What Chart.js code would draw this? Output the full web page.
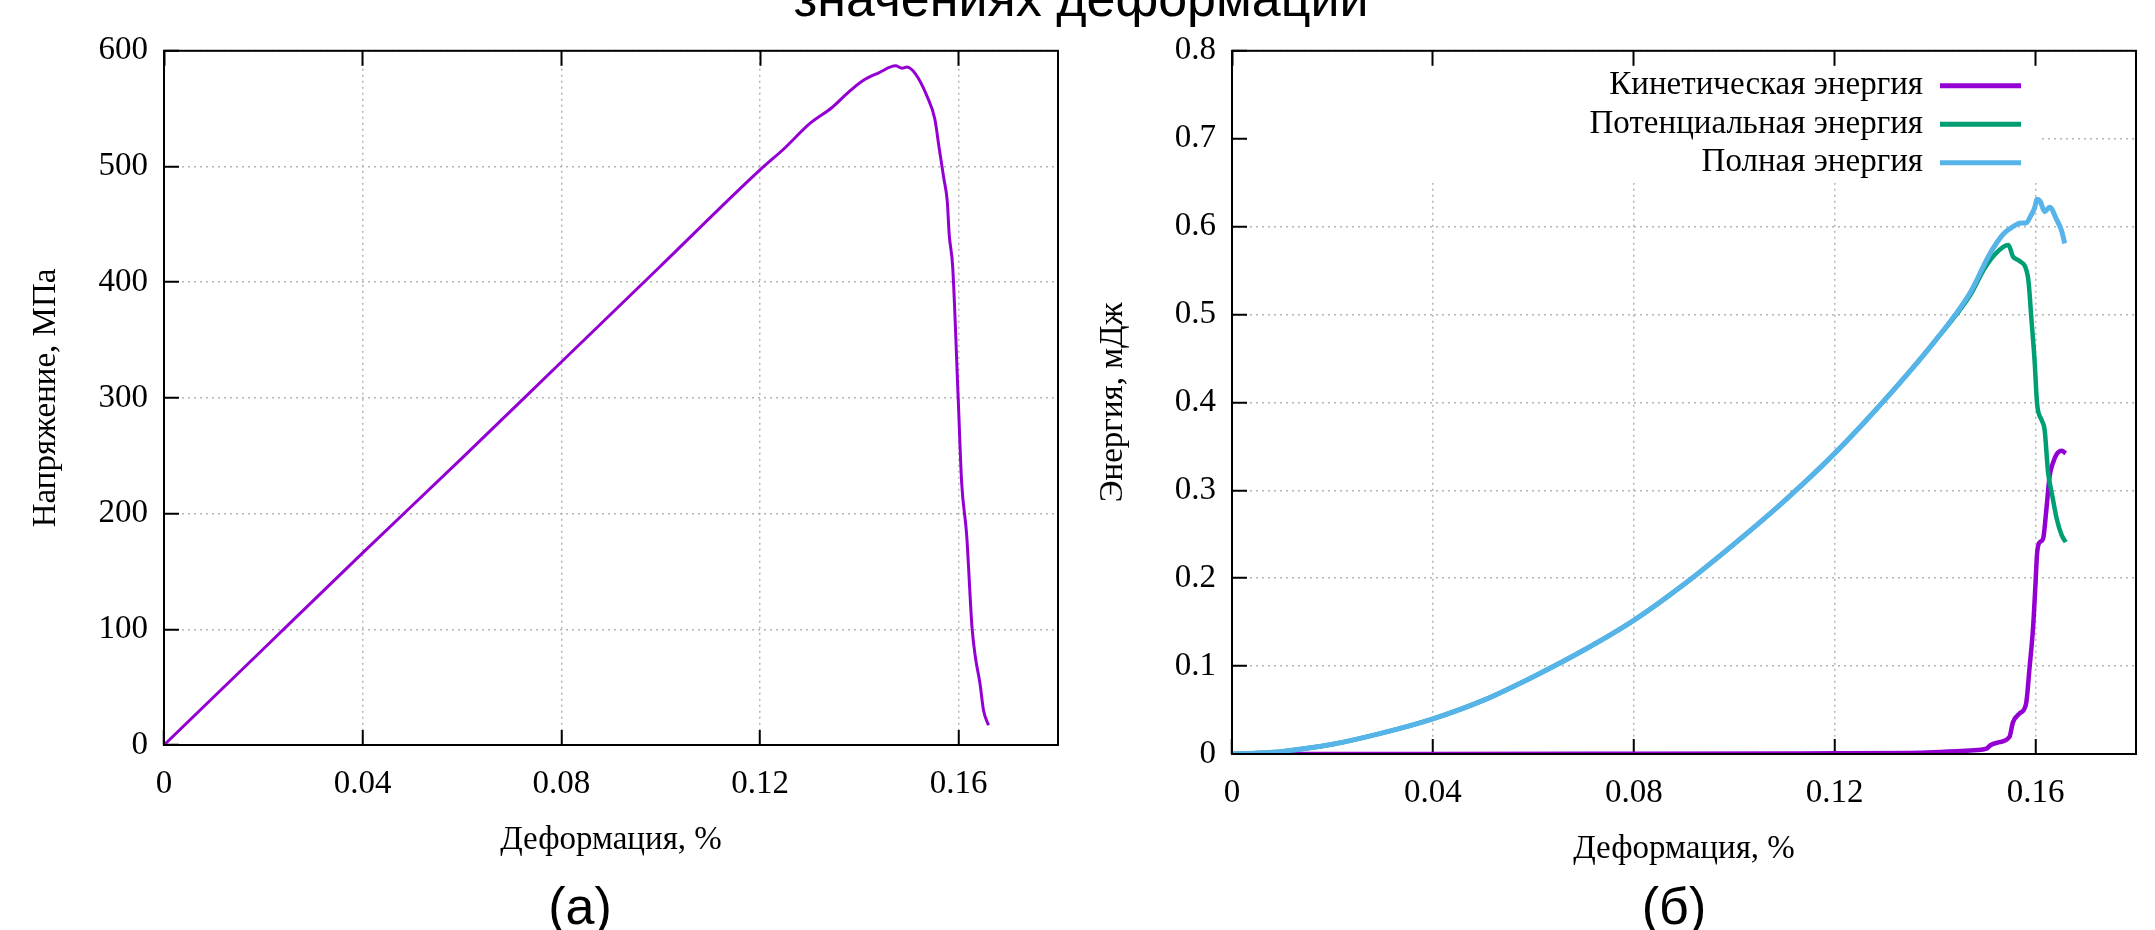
<!DOCTYPE html>
<html>
<head>
<meta charset="utf-8">
<script src="https://cdn.jsdelivr.net/npm/chart.js@4.4.1/dist/chart.umd.min.js"></script>
<style>
html, body { margin: 0; padding: 0; background: #fff; }
body { width: 2155px; height: 930px; position: relative; overflow: hidden; }
.box { position: absolute; top: 0; height: 930px; }
.lbl { position: absolute; font-family: "Liberation Sans", Arial, sans-serif; font-size: 52px; line-height: 1; white-space: nowrap; transform: translateX(-50%); color: #000; }
</style>
</head>
<body>
<div class="box" style="left:0;width:1080px"><canvas id="stressChart"></canvas></div>
<div class="box" style="left:1080px;width:1075px"><canvas id="energyChart"></canvas></div>
<div class="lbl" style="left:1081px;top:-28px">значениях деформации</div>
<div class="lbl" style="left:580px;top:880px">(а)</div>
<div class="lbl" style="left:1674px;top:880px">(б)</div>
<script>
const SERIF = "'Liberation Serif', 'Times New Roman', serif";

// деления осей
const strainTicks = [0, 0.04, 0.08, 0.12, 0.16];
const stressTicks = [0, 100, 200, 300, 400, 500, 600];
const energyTicks = [0, 0.1, 0.2, 0.3, 0.4, 0.5, 0.6, 0.7, 0.8];

// (а) напряжение - деформация
const strainA = [0, 0.02, 0.04, 0.06, 0.08, 0.1, 0.12, 0.125, 0.13, 0.1345, 0.1375, 0.1406, 0.1439, 0.1473, 0.1486, 0.1496, 0.1513, 0.1536, 0.1552, 0.156, 0.157, 0.1577, 0.1581, 0.1588, 0.1599, 0.1606, 0.1616, 0.1627, 0.1634, 0.1643, 0.165, 0.166];
const stressA = [0, 83, 166, 248, 331, 414, 497, 516, 537, 551, 563, 574, 581, 587, 585, 586, 580, 561, 541, 518, 490, 470, 441, 413, 300, 227, 182, 101, 75, 53, 30, 17];

// (б) энергии
const strainKin = [0, 0.04, 0.08, 0.12, 0.135, 0.1471, 0.1502, 0.151, 0.1528, 0.1548, 0.1555, 0.1568, 0.1581, 0.1588, 0.1595, 0.16, 0.1603, 0.1607, 0.1615, 0.1621, 0.1628, 0.1634, 0.1642, 0.1652, 0.166];
const kinetic = [0, 0, 0.0003, 0.0008, 0.0012, 0.004, 0.006, 0.010, 0.0135, 0.0195, 0.036, 0.046, 0.057, 0.098, 0.1435, 0.195, 0.228, 0.240, 0.245, 0.275, 0.316, 0.330, 0.341, 0.345, 0.342];

const strainPot = [0, 0.005, 0.01, 0.02, 0.03, 0.04, 0.05, 0.06, 0.07, 0.08, 0.09, 0.1, 0.11, 0.12, 0.13, 0.14, 0.147, 0.1498, 0.152, 0.1546, 0.1555, 0.1568, 0.1585, 0.1592, 0.1598, 0.1603, 0.1612, 0.1618, 0.1625, 0.1632, 0.1642, 0.1652, 0.166];
const potential = [0, 0.001, 0.003, 0.011, 0.024, 0.040, 0.061, 0.088, 0.118, 0.152, 0.193, 0.239, 0.288, 0.342, 0.403, 0.470, 0.522, 0.552, 0.569, 0.579, 0.566, 0.561, 0.542, 0.493, 0.448, 0.399, 0.380, 0.369, 0.320, 0.298, 0.268, 0.249, 0.241];

const strainTot = [0, 0.005, 0.01, 0.02, 0.03, 0.04, 0.05, 0.06, 0.07, 0.08, 0.09, 0.1, 0.11, 0.12, 0.13, 0.14, 0.147, 0.1508, 0.1535, 0.1555, 0.1571, 0.1581, 0.1591, 0.1598, 0.1603, 0.1609, 0.1618, 0.1628, 0.1642, 0.1652, 0.1658];
const total = [0, 0.001, 0.003, 0.011, 0.024, 0.040, 0.061, 0.088, 0.118, 0.152, 0.193, 0.239, 0.288, 0.342, 0.403, 0.470, 0.525, 0.568, 0.591, 0.600, 0.604, 0.604, 0.613, 0.621, 0.631, 0.629, 0.617, 0.622, 0.608, 0.595, 0.581];

const energyNames = ['Кинетическая энергия', 'Потенциальная энергия', 'Полная энергия'];
const energyColors = ['#9400d3', '#009e73', '#56b4e9'];

function toPoints(xs, ys) {
    return xs.map((x, i) => ({ x: x, y: ys[i] }));
}

// сетка пунктиром, засечки внутрь
const gridOpts = {
    color: '#b4b4b4',
    lineWidth: 1.5,
    tickColor: '#000',
    tickWidth: 2,
    tickLength: -15,
    tickBorderDash: []
};

function xAxis(height, titlePad) {
    return {
        type: 'linear',
        position: 'bottom',
        min: 0,
        max: 0.18,
        afterBuildTicks: s => { s.ticks = strainTicks.map(v => ({ value: v })); },
        afterFit: s => { s.height = height; },
        grid: gridOpts,
        border: { display: false, dash: [2, 4] },
        ticks: { padding: 35, color: '#000', autoSkip: false, maxRotation: 0, font: { family: SERIF, size: 33 }, callback: v => String(v) },
        title: { display: true, text: 'Деформация, %', color: '#000', font: { family: SERIF, size: 33 }, padding: { top: 0, bottom: titlePad } }
    };
}

function topAxis() {
    return {
        type: 'linear',
        position: 'top',
        min: 0,
        max: 0.18,
        afterBuildTicks: s => { s.ticks = strainTicks.map(v => ({ value: v })); },
        afterFit: s => { s.height = 0; },
        grid: { drawOnChartArea: false, tickColor: '#000', tickWidth: 2, tickLength: -15, z: 1 },
        border: { display: false },
        ticks: { display: false }
    };
}

function yAxis(max, tickVals, title, width, titlePad) {
    return {
        type: 'linear',
        position: 'left',
        min: 0,
        max: max,
        afterBuildTicks: s => { s.ticks = tickVals.map(v => ({ value: v })); },
        afterFit: s => { s.width = width; },
        grid: gridOpts,
        border: { display: false, dash: [2, 4] },
        ticks: { padding: 31, color: '#000', autoSkip: false, font: { family: SERIF, size: 33 }, callback: v => String(v) },
        title: { display: true, text: title, color: '#000', font: { family: SERIF, size: 33 }, padding: { top: titlePad, bottom: 0 } }
    };
}

// рамка вокруг области графика
const framePlugin = {
    id: 'frame',
    afterDatasetsDraw(chart) {
        const { ctx, chartArea: a } = chart;
        ctx.save();
        ctx.strokeStyle = '#000';
        ctx.lineWidth = 2;
        ctx.strokeRect(a.left, a.top, a.right - a.left, a.bottom - a.top);
        ctx.restore();
    }
};

// непрозрачная легенда внутри графика (б)
const keyPlugin = {
    id: 'key',
    beforeDatasetsDraw(chart) {
        const { ctx, chartArea: a } = chart;
        ctx.save();
        ctx.fillStyle = '#fff';
        ctx.fillRect(a.left + 17, a.top + 1, 958 - a.left - 17, 131);
        ctx.font = '33px ' + SERIF;
        ctx.textAlign = 'right';
        ctx.textBaseline = 'middle';
        energyNames.forEach((name, i) => {
            const y = a.top + 35 + i * 38.5;
            ctx.fillStyle = '#000';
            ctx.fillText(name, 843, y);
            ctx.strokeStyle = energyColors[i];
            ctx.lineWidth = 5;
            ctx.beginPath();
            ctx.moveTo(860, y);
            ctx.lineTo(941, y);
            ctx.stroke();
        });
        ctx.restore();
    }
};

new Chart(document.getElementById('stressChart'), {
    type: 'line',
    data: {
        datasets: [{
            label: 'Напряжение',
            data: toPoints(strainA, stressA),
            borderColor: '#9400d3',
            borderWidth: 3,
            pointRadius: 0,
            cubicInterpolationMode: 'monotone',
            fill: false
        }]
    },
    options: {
        responsive: true,
        maintainAspectRatio: false,
        animation: false,
        layout: { padding: { top: 45, right: 22, left: 0, bottom: 0 } },
        scales: {
            x: xAxis(185, 70),
            x2: topAxis(),
            y: yAxis(600, stressTicks, 'Напряжение, МПа', 164, 27)
        },
        plugins: { legend: { display: false }, title: { display: false }, tooltip: { enabled: false } }
    },
    plugins: [framePlugin]
});

new Chart(document.getElementById('energyChart'), {
    type: 'line',
    data: {
        datasets: [
            { label: energyNames[0], data: toPoints(strainKin, kinetic), borderColor: energyColors[0], borderWidth: 4.5, pointRadius: 0, cubicInterpolationMode: 'monotone', fill: false, order: 2 },
            { label: energyNames[1], data: toPoints(strainPot, potential), borderColor: energyColors[1], borderWidth: 4.5, pointRadius: 0, cubicInterpolationMode: 'monotone', fill: false, order: 1 },
            { label: energyNames[2], data: toPoints(strainTot, total), borderColor: energyColors[2], borderWidth: 5, pointRadius: 0, cubicInterpolationMode: 'monotone', fill: false, order: 0 }
        ]
    },
    options: {
        responsive: true,
        maintainAspectRatio: false,
        animation: false,
        layout: { padding: { top: 45, right: 19, left: 0, bottom: 0 } },
        scales: {
            x: xAxis(176, 61),
            x2: topAxis(),
            y: yAxis(0.8, energyTicks, 'Энергия, мДж', 152, 14)
        },
        plugins: { legend: { display: false }, title: { display: false }, tooltip: { enabled: false } }
    },
    plugins: [framePlugin, keyPlugin]
});
</script>
</body>
</html>
